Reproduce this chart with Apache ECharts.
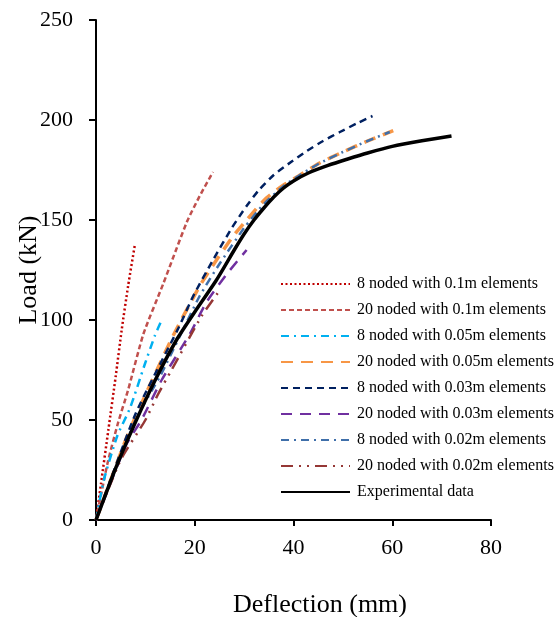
<!DOCTYPE html>
<html>
<head>
<meta charset="utf-8">
<script src="https://cdn.jsdelivr.net/npm/echarts@6/dist/echarts.min.js"></script>
<style>
html,body{margin:0;padding:0;background:#fff;}
#chart{width:557px;height:617px;}
</style>
</head>
<body>
<div id="chart"></div>
<script>
var seriesNames = [
  "8 noded with 0.1m elements",
  "20 noded with 0.1m elements",
  "8 noded with 0.05m elements",
  "20 noded with 0.05m elements",
  "8 noded with 0.03m elements",
  "20 noded with 0.03m elements",
  "8 noded with 0.02m elements",
  "20 noded with 0.02m elements",
  "Experimental data"
];
var xTicks = [0, 20, 40, 60, 80];
var yTicks = [0, 50, 100, 150, 200, 250];

var n8_01 = [[0,0],[1,18],[2.5,45],[4,72],[5.2,95],[6.5,117],[7.9,138]];
var n20_01 = [[0,0],[2.3,28],[4.4,48],[6.5,65],[9.6,93],[13.6,118],[18.4,149],[21,162],[23.7,174]];
var n8_005 = [[0,0],[1.6,20],[4.3,42],[6.9,56],[9.9,78],[11.9,92],[13.3,100]];
var n20_005 = [[0,0],[6,40],[8.6,55],[15.6,92],[21,117],[24.4,130],[27.8,142],[30.5,150],[34.5,161],[38,167.5],[41,172],[45.3,178.5],[50,184],[55,189.5],[60.2,194.7]];
var n8_003 = [[0,0],[8,53],[16.7,96],[19.7,112],[23.7,130],[27.5,146],[30.5,157],[33,165],[36,172.5],[39.5,179],[42.7,184.5],[46,189.5],[49.4,194],[53,198.5],[56,202]];
var n20_003 = [[0,0],[6,37],[9.2,50],[13.3,70],[19,93],[22.4,109],[26.5,123],[30.5,135]];
var n8_002 = [[0,0],[8,50],[13,72],[17,92],[21,112],[25,128],[30,146],[34,158],[38,167],[41,172],[45,178],[50,184],[55,189.5],[59.5,194]];
var n20_002 = [[0,0],[5,30],[10,50],[12.6,63],[15.3,75],[21.4,102],[25.1,115]];
var experimental = [[0,0],[4,26],[8,49],[12,70],[16.3,90],[20,104],[24.4,120],[28,135],[30,143],[32,150],[34,156],[36,161.5],[38,166],[40,169.5],[43,173.5],[47,177.3],[51,180.5],[55,183.5],[60,186.8],[66,189.6],[72,192]];

var dataList = [n8_01, n20_01, n8_005, n20_005, n8_003, n20_003, n8_002, n20_002, experimental];
var colors = ["#C00000","#C0504D","#00B0F0","#F79646","#002060","#7030A0","#3F6FAA","#953735","#000000"];
var widths = [2.5, 2.5, 2.5, 3.5, 2.5, 2.5, 2.5, 2.5, 3.5];
var dashes = [[2,2.5],[5,3],[8,5,2,5],[12,8],[7,5],[11,8],[8,5,2,5],[12,6,2,6,2,6],'solid'];

var FONT = "'Liberation Serif','Times New Roman',serif";
var series = dataList.map(function(d, i){
  return {
    name: seriesNames[i],
    type: 'line',
    data: d,
    symbol: 'none',
    smooth: 0.2,
    z: i === 8 ? 3 : 2,
    lineStyle: {color: colors[i], width: widths[i], type: dashes[i]},
    itemStyle: {color: colors[i]}
  };
});

var chart = echarts.init(document.getElementById('chart'), null, {renderer: 'canvas'});
chart.setOption({
  backgroundColor: '#ffffff',
  animation: false,
  grid: {left: 96, right: 66, top: 20, bottom: 97, containLabel: false, outerBoundsMode: 'none'},
  xAxis: {
    type: 'value', min: xTicks[0], max: xTicks[xTicks.length-1], interval: 20,
    name: 'Deflection (mm)', nameLocation: 'middle', nameGap: 72, nameMoveOverlap: false,
    nameTextStyle: {fontFamily: FONT, fontSize: 26, color: '#000', padding: [0,0,0,53]},
    axisLine: {onZero: false, lineStyle: {color: '#000', width: 2}},
    axisTick: {show: true, inside: false, length: 6, lineStyle: {color: '#000', width: 2}},
    axisLabel: {fontFamily: FONT, fontSize: 22, color: '#000', margin: 17},
    splitLine: {show: false}
  },
  yAxis: {
    type: 'value', min: yTicks[0], max: yTicks[yTicks.length-1], interval: 50,
    name: 'Load (kN)', nameLocation: 'middle', nameGap: 54, nameRotate: 90, nameMoveOverlap: false,
    nameTextStyle: {fontFamily: FONT, fontSize: 26, color: '#000'},
    axisLine: {show: true, onZero: false, lineStyle: {color: '#000', width: 2}},
    axisTick: {show: true, inside: false, length: 7, lineStyle: {color: '#000', width: 2}},
    axisLabel: {fontFamily: FONT, fontSize: 22, color: '#000', margin: 23},
    splitLine: {show: false}
  },
  legend: {
    orient: 'vertical', left: 280, top: 276, padding: 0,
    itemWidth: 69, itemHeight: 14, itemGap: 10,
    itemStyle: {opacity: 0},
    textStyle: {fontFamily: FONT, fontSize: 16, color: '#000', padding: [0,0,0,2]},
    data: seriesNames
  },
  series: series
});
</script>
</body>
</html>
